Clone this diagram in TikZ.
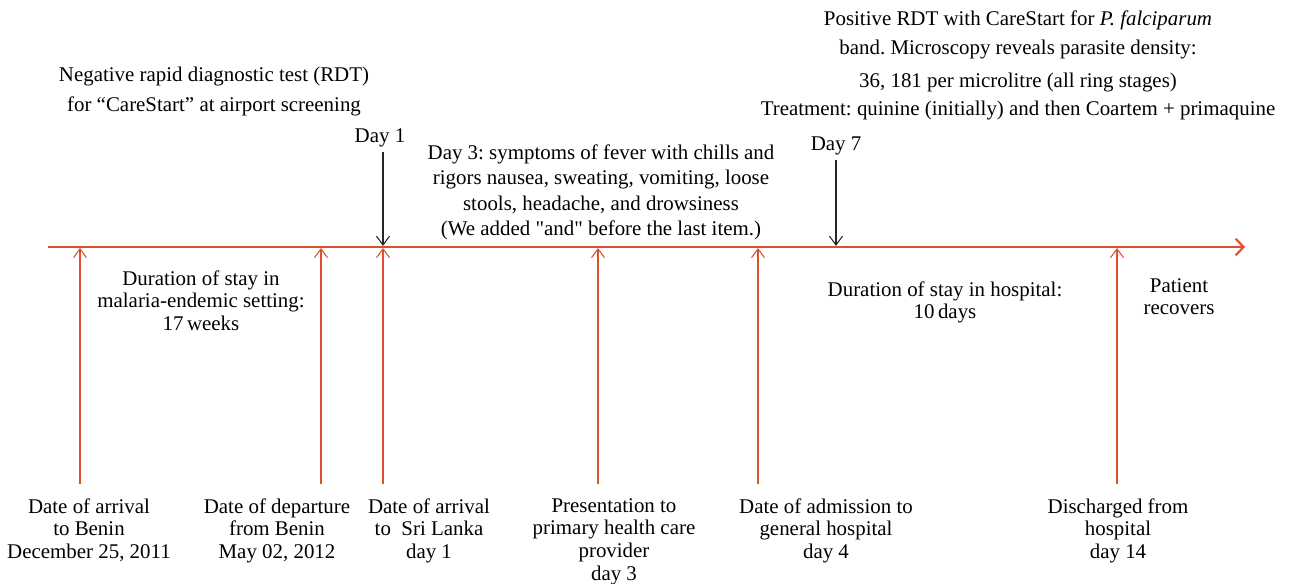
\documentclass[tikz,border=0pt]{standalone}
\usepackage{fontspec}
\setmainfont{Liberation Serif}
\newfontfamily\straightq{Liberation Serif}[Ligatures=TeXOff]
\usetikzlibrary{arrows.meta}
\definecolor{tlred}{RGB}{222,78,48}
\frenchspacing

\begin{document}
\begin{tikzpicture}[x=0.02cm,y=-0.02cm,
      timeline/.style={draw=tlred, line width=1.2pt, -{Straight Barb[length=4.5pt,width=9.5pt]}},
      redarrow/.style={draw=tlred, line width=0.6pt, -{Straight Barb[length=5pt,width=7.4pt]}},
      blackarrow/.style={draw=black!85, line width=0.6pt, -{Straight Barb[length=5pt,width=7.4pt]},
        shorten <=2.8pt, shorten >=1.2pt},
      event/.style={align=center, inner sep=0pt, anchor=north, font=\fontsize{11.9}{12.9}\selectfont}]

    \useasboundingbox (0,0) rectangle (1297,584);

    % main axis
    \coordinate (s) at (48,247);
    \coordinate (e) at (1245,247);
    \draw[timeline] (s) -- (e);

    % points on the axis and feet of the red arrows
    \coordinate (t1) at (80,248);
    \coordinate (t2) at (321,248);
    \coordinate (t3) at (383,248);
    \coordinate (t4) at (598,248);
    \coordinate (t5) at (758,248);
    \coordinate (t6) at (1117,248);
    \coordinate (t7) at (836,248);

    \coordinate (b1) at (80,484);
    \coordinate (b2) at (321,484);
    \coordinate (b3) at (383,484);
    \coordinate (b4) at (598,484);
    \coordinate (b5) at (758,484);
    \coordinate (b6) at (1117,484);

    % events below the axis
    \node[event] (l1) at (89,498)   {Date of arrival\\to Benin\\December 25, 2011};
    \node[event] (l2) at (277,498)  {Date of departure\\from Benin\\May 02, 2012};
    \node[event] (l3) at (429,498)  {Date of arrival\\to~ Sri Lanka\\day 1};
    \node[event] (l4) at (614,498)  {Presentation to\\primary health care\\provider\\day 3};
    \node[event] (l5) at (826,498)  {Date of admission to\\general hospital\\day 4};
    \node[event] (l6) at (1118,498) {Discharged from\\hospital\\day 14};

    \node[event] (durb) at (201,270) {Duration of stay in\\malaria-endemic setting:\\17\,weeks};
    \node[event] (durh) at (945,281) {Duration of stay in hospital:\\10\,days};
    \node[event] (rec)  at (1179,278) {Patient\\recovers};

    % events above the axis
    \node[event] (neg) at (214,67) {Negative rapid diagnostic test (RDT)\\[4.2pt]
      for ``CareStart'' at airport screening};
    \node[event] (day1) at (380,128) {Day 1};
    \node[event] (sym) at (601,144) {Day 3: symptoms of fever with chills and\\[1.6pt]
      rigors nausea, sweating, vomiting, loose\\[1.6pt]
      stools, headache, and drowsiness\\[1.6pt]
      (We added {\straightq"and"} before the last item.)};
    \node[event] (day7) at (836,136) {Day 7};
    \node[event] (pos) at (1018,10) {Positive RDT with CareStart for \textit{P. falciparum}\\[3.6pt]
      band. Microscopy reveals parasite density:\\[6.4pt]
      36, 181 per microlitre (all ring stages)\\[2.5pt]
      Treatment: quinine (initially) and then Coartem + primaquine};

    \draw[redarrow] (b1) -- (t1);
    \draw[redarrow] (b2) -- (t2);
    \draw[redarrow] (b3) -- (t3);
    \draw[redarrow] (b4) -- (t4);
    \draw[redarrow] (b5) -- (t5);
    \draw[redarrow] (b6) -- (t6);

    \draw[blackarrow] (day1.south -| t3) -- (t3);
    \draw[blackarrow] (day7.south -| t7) -- (t7);

  \end{tikzpicture}
\end{document}
